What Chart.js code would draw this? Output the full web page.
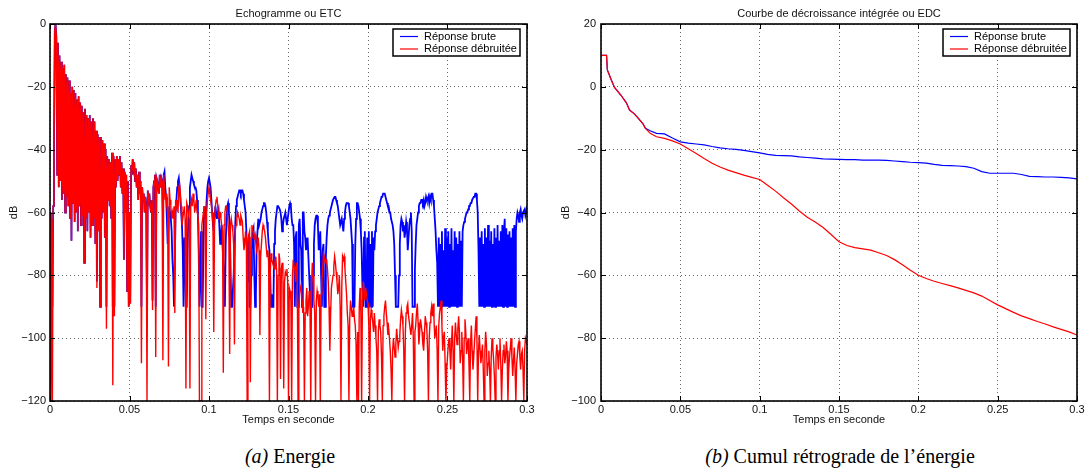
<!DOCTYPE html>
<html>
<head>
<meta charset="utf-8">
<script src="https://cdn.jsdelivr.net/npm/chart.js@4.4.1/dist/chart.umd.min.js"></script>
<style>
  html, body { margin: 0; padding: 0; background: #fff; }
  body { width: 1087px; height: 472px; position: relative; overflow: hidden; }
  .panel { position: absolute; top: 0; height: 430px; }
  #etcBox { left: 0; width: 545px; }
  #edcBox { left: 545px; width: 542px; }
  .caption {
    position: absolute; top: 445px; transform: translateX(-50%);
    font-family: "Liberation Serif", "Times New Roman", serif; font-size: 20px;
    color: #000; white-space: nowrap;
  }
</style>
</head>
<body>
<div class="panel" id="etcBox"><canvas id="etc"></canvas></div>
<div class="panel" id="edcBox"><canvas id="edc"></canvas></div>
<div class="caption" style="left:290px"><i>(a)</i> Energie</div>
<div class="caption" style="left:840px"><i>(b)</i> Cumul rétrograde de l’énergie</div>

<script>
// Echogramme (ETC): one value every 0.5 ms from 0 to 0.3 s, in dB (10 ms per row)
const etcBrute = [
  -60, -90, -62, -90, -58, -40, -2, 0, -4, -48, -6, -52, -10, -50, -12, -56, -14, -54, -13, -60,
  -16, -55, -17, -58, -18, -62, -22, -69, -20, -57, -21, -63, -22, -60, -24, -66, -23, -58, -25, -64,
  -26, -61, -28, -76, -27, -62, -29, -66, -30, -60, -29, -68, -31, -64, -30, -62, -31, -70, -34, -82,
  -35, -66, -36, -90, -36, -62, -37, -60, -38, -68, -40, -90, -42, -56, -43, -58, -44, -62, -41, -90,
  -42, -90, -43, -52, -42, -50, -43, -48, -42, -52, -44, -54, -46, -75, -47, -60, -48, -85, -50, -90,
  -60, -89, -45, -48, -43, -46, -44, -50, -46, -52, -48, -56, -47, -54, -50, -90, -52, -56, -54, -60,
  -55, -58, -90, -53, -56, -54, -58, -60, -56, -88, -52, -50, -48, -90, -49, -50, -52, -54, -48, -52,
  -49, -50, -60, -48, -47, -52, -55, -62, -70, -64, -58, -60, -62, -66, -75, -80, -90, -90, -60, -56,
  -52, -50, -49, -52, -56, -60, -64, -72, -90, -68, -70, -90, -90, -72, -62, -58, -52, -50, -48, -49,
  -50, -51, -52, -52, -53, -56, -60, -72, -90, -80, -66, -90, -90, -70, -58, -60, -62, -56, -52, -50,
  -49, -49, -52, -56, -60, -64, -66, -62, -58, -60, -62, -60, -59, -64, -70, -68, -64, -70, -76, -80,
  -90, -70, -62, -58, -57, -60, -64, -76, -90, -90, -90, -80, -72, -64, -58, -56, -55, -54, -53, -53,
  -54, -53, -53, -54, -56, -58, -60, -66, -75, -82, -68, -90, -90, -80, -72, -66, -65, -80, -90, -86,
  -70, -66, -62, -64, -64, -62, -60, -59, -58, -57, -57, -58, -60, -63, -66, -70, -72, -80, -90, -86,
  -90, -90, -70, -66, -62, -60, -58, -58, -58, -59, -60, -62, -66, -64, -62, -61, -60, -62, -64, -62,
  -60, -58, -57, -58, -62, -64, -64, -70, -90, -68, -66, -90, -90, -64, -62, -70, -72, -90, -60, -60,
  -66, -68, -72, -70, -68, -74, -80, -86, -90, -90, -90, -80, -70, -64, -62, -61, -61, -64, -72, -70,
  -66, -80, -90, -72, -70, -90, -90, -74, -68, -64, -62, -61, -60, -59, -58, -57, -56, -56, -55, -55,
  -56, -57, -58, -60, -62, -64, -64, -62, -64, -66, -62, -60, -58, -57, -57, -57, -58, -60, -62, -66,
  -70, -90, -90, -90, -70, -62, -57, -57, -58, -60, -62, -66, -72, -84, -90, -68, -66, -90, -90, -68,
  -90, -66, -90, -70, -90, -66, -90, -68, -72, -66, -64, -62, -60, -59, -58, -57, -56, -55, -55, -54,
  -54, -54, -55, -56, -57, -58, -58, -60, -60, -62, -62, -64, -66, -70, -80, -90, -90, -90, -90, -80,
  -70, -64, -62, -63, -66, -64, -68, -66, -63, -65, -72, -68, -64, -62, -60, -66, -90, -90, -90, -78,
  -70, -64, -62, -60, -58, -57, -57, -56, -56, -57, -56, -58, -57, -55, -56, -56, -55, -57, -55, -56,
  -54, -54, -56, -58, -62, -66, -72, -76, -90, -68, -90, -70, -90, -66, -90, -72, -90, -65, -90, -68,
  -90, -66, -90, -70, -90, -65, -90, -72, -90, -66, -90, -68, -90, -70, -90, -66, -90, -69, -90, -66,
  -64, -63, -62, -61, -60, -60, -59, -58, -58, -57, -57, -56, -56, -55, -55, -54, -54, -56, -60, -72,
  -90, -68, -90, -66, -90, -70, -90, -65, -90, -68, -90, -64, -90, -69, -90, -66, -90, -70, -90, -65,
  -90, -68, -90, -64, -90, -69, -90, -66, -90, -64, -90, -66, -62, -90, -65, -90, -67, -90, -66, -90,
  -68, -90, -65, -90, -64, -90, -66, -62, -60, -61, -63, -60, -59, -61, -62, -60, -60, -59, -61, -60,
  -58
];
const etcDebruitee = [
  -60, -120, -62, -120, -58, -40, -2, 0, -4, -48, -6, -52, -10, -50, -12, -56, -14, -54, -13, -60,
  -16, -55, -17, -58, -18, -62, -22, -69, -20, -57, -21, -63, -22, -60, -24, -66, -23, -58, -25, -64,
  -26, -61, -28, -76, -27, -62, -29, -66, -30, -60, -29, -68, -31, -64, -30, -62, -31, -70, -34, -84,
  -35, -66, -36, -90, -36, -62, -37, -60, -38, -68, -40, -97, -42, -56, -43, -58, -44, -62, -41, -115,
  -42, -93, -43, -52, -42, -50, -43, -48, -42, -52, -44, -54, -46, -75, -47, -60, -48, -85, -50, -90,
  -60, -89, -45, -48, -43, -46, -44, -50, -46, -52, -48, -56, -47, -54, -50, -108, -52, -56, -54, -60,
  -55, -58, -120, -53, -56, -54, -58, -60, -56, -91, -52, -50, -48, -106, -49, -50, -52, -54, -48, -52,
  -49, -50, -107, -48, -52, -56, -54, -58, -60, -109, -52, -56, -58, -62, -60, -62, -58, -92, -56, -58,
  -56, -60, -52, -51, -54, -58, -64, -62, -60, -58, -62, -116, -57, -58, -60, -62, -116, -58, -56, -58,
  -54, -56, -60, -58, -56, -60, -61, -64, -120, -120, -120, -64, -62, -60, -58, -62, -94, -60, -56, -54,
  -52, -54, -56, -58, -60, -64, -98, -62, -58, -56, -55, -58, -62, -60, -60, -62, -64, -66, -111, -64,
  -60, -58, -58, -60, -64, -68, -105, -64, -62, -64, -66, -70, -102, -66, -64, -62, -60, -61, -62, -64,
  -61, -62, -63, -68, -72, -70, -66, -68, -120, -70, -67, -66, -114, -68, -64, -66, -66, -68, -67, -70,
  -72, -70, -68, -72, -99, -74, -70, -66, -64, -65, -66, -68, -71, -74, -72, -76, -120, -80, -73, -75,
  -76, -77, -78, -76, -74, -78, -120, -80, -73, -75, -113, -78, -76, -80, -116, -82, -79, -80, -78, -82,
  -120, -84, -85, -88, -120, -80, -75, -77, -78, -82, -76, -80, -120, -90, -86, -84, -83, -88, -92, -90,
  -120, -92, -88, -84, -93, -90, -85, -88, -120, -82, -76, -80, -88, -92, -120, -88, -85, -87, -90, -86,
  -120, -86, -82, -78, -73, -74, -76, -75, -75, -78, -82, -90, -104, -92, -84, -82, -80, -77, -74, -76,
  -79, -82, -86, -84, -80, -90, -120, -84, -74, -75, -74, -78, -82, -86, -92, -96, -120, -94, -88, -90,
  -93, -92, -90, -94, -96, -102, -120, -98, -120, -90, -84, -92, -120, -88, -82, -85, -88, -84, -86, -88,
  -89, -96, -120, -94, -91, -93, -95, -98, -92, -96, -100, -104, -120, -98, -94, -96, -98, -106, -120, -96,
  -93, -90, -88, -92, -95, -99, -97, -100, -104, -110, -120, -104, -100, -103, -106, -102, -97, -100, -103, -101,
  -99, -94, -91, -93, -96, -104, -120, -98, -92, -90, -89, -93, -95, -97, -99, -96, -92, -100, -120, -98,
  -96, -92, -89, -95, -102, -98, -94, -96, -98, -102, -104, -99, -93, -95, -97, -104, -120, -100, -95, -92,
  -90, -93, -89, -94, -100, -98, -96, -104, -120, -96, -92, -90, -88, -96, -104, -100, -98, -108, -120, -110,
  -106, -102, -100, -104, -110, -102, -96, -104, -120, -100, -95, -99, -102, -97, -93, -98, -108, -104, -98, -106,
  -120, -100, -94, -98, -105, -102, -100, -108, -120, -102, -96, -104, -110, -106, -101, -97, -93, -100, -120, -104,
  -99, -104, -108, -105, -102, -110, -120, -104, -98, -102, -112, -108, -104, -110, -120, -106, -100, -103, -107, -112,
  -120, -106, -102, -105, -110, -104, -100, -108, -120, -110, -104, -102, -108, -106, -101, -104, -120, -110, -106, -103,
  -100, -106, -112, -107, -103, -110, -120, -108, -105, -102, -101, -106, -110, -105, -104, -110, -120, -104, -100, -101,
  -102
];
const etcTime = etcBrute.map((_, i) => i / 2000);

// Courbe de décroissance (EDC)
const edcTime = [
  0, 0.0035, 0.004, 0.0065, 0.0085, 0.0125, 0.016, 0.018, 0.021, 0.023,
  0.0265, 0.028, 0.031, 0.035, 0.04, 0.045, 0.05,
  0.055, 0.06, 0.065, 0.07, 0.075, 0.08, 0.085, 0.09, 0.095, 0.1,
  0.105, 0.11, 0.115, 0.12, 0.125, 0.13, 0.135, 0.14, 0.145, 0.15,
  0.155, 0.16, 0.165, 0.17, 0.175, 0.18, 0.185, 0.19, 0.195, 0.2,
  0.205, 0.21, 0.215, 0.22, 0.225, 0.23, 0.235, 0.24, 0.245, 0.25,
  0.255, 0.26, 0.265, 0.27, 0.275, 0.28, 0.285, 0.29, 0.295, 0.3
];
const edcBrute = [
  10, 10, 5.4, 2.2, -0.2, -2.6, -5.1, -7.4, -8.6, -9.7,
  -11.8, -13.2, -14, -14.8, -15, -16.3, -17.5,
  -17.9, -18.2, -18.5, -19, -19.4, -19.7, -19.9, -20.2, -20.6, -21,
  -21.5, -21.8, -21.9, -22, -22.3, -22.5, -22.7, -22.9, -23, -23.1,
  -23.2, -23.2, -23.3, -23.3, -23.3, -23.4, -23.6, -23.8, -24, -24.1,
  -24.3, -24.7, -25, -25.1, -25.2, -25.4, -25.9, -27, -27.5, -27.5,
  -27.5, -27.5, -27.9, -28.5, -28.6, -28.7, -28.7, -28.8, -29, -29.3
];
const edcDebruitee = [
  10, 10, 5.4, 2.2, -0.2, -2.6, -5.1, -7.4, -8.6, -9.7,
  -11.8, -13.2, -14.8, -15.9, -16.4, -17.2, -18.2,
  -19.7, -21.2, -22.8, -24.3, -25.5, -26.5, -27.3, -28.1, -28.8, -29.5,
  -31.3, -33.2, -35.3, -37.3, -39.5, -41.5, -43, -44.8, -47, -49.3,
  -50.5, -51.2, -51.6, -52, -52.8, -53.7, -55, -56.6, -58.4, -60,
  -61, -61.9, -62.6, -63.3, -64, -64.8, -65.6, -66.6, -68, -69.4,
  -70.6, -71.8, -72.9, -73.8, -74.7, -75.5, -76.4, -77.2, -78, -79
];

const xTicks = { min: 0, max: 0.3, step: 0.05 };
const seriesLabels = ['Réponse brute', 'Réponse débruitée'];

Chart.defaults.font.family = '"Liberation Sans", Arial, Helvetica, sans-serif';
Chart.defaults.font.size = 11;
Chart.defaults.color = '#111';

const toXY = (xs, ys) => ys.map((v, i) => ({ x: xs[i], y: v }));
const minus = v => (v < 0 ? '\u2212' + Math.abs(v) : String(v));

// box around the axes, inward ticks on the four sides, legend in the upper right
const matlabFrame = {
  id: 'matlabFrame',
  afterDraw(chart) {
    const { ctx, chartArea: a, scales: { x, y } } = chart;
    ctx.save();
    ctx.strokeStyle = '#000';
    ctx.lineWidth = 1;
    ctx.beginPath();
    x.ticks.forEach(t => {
      const px = Math.round(x.getPixelForValue(t.value)) + 0.5;
      ctx.moveTo(px, a.bottom); ctx.lineTo(px, a.bottom - 5);
      ctx.moveTo(px, a.top); ctx.lineTo(px, a.top + 5);
    });
    y.ticks.forEach(t => {
      const py = Math.round(y.getPixelForValue(t.value)) + 0.5;
      ctx.moveTo(a.left, py); ctx.lineTo(a.left + 5, py);
      ctx.moveTo(a.right, py); ctx.lineTo(a.right - 5, py);
    });
    ctx.stroke();

    ctx.lineWidth = 1.6;
    ctx.strokeRect(a.left, a.top, a.right - a.left, a.bottom - a.top);

    // legend
    const bx = a.right - 134, by = a.top + 5, bw = 127, bh = 27;
    ctx.fillStyle = '#fff';
    ctx.fillRect(bx, by, bw, bh);
    ctx.lineWidth = 1.5;
    ctx.strokeRect(bx, by, bw, bh);
    ctx.font = '11px "Liberation Sans", Arial, sans-serif';
    ctx.textBaseline = 'middle';
    chart.data.datasets.forEach((ds, i) => {
      const ly = by + 7.5 + i * 12.5;
      ctx.strokeStyle = ds.borderColor;
      ctx.lineWidth = 1.2;
      ctx.beginPath();
      ctx.moveTo(bx + 7, ly); ctx.lineTo(bx + 25, ly);
      ctx.stroke();
      ctx.fillStyle = '#000';
      ctx.fillText(ds.label, bx + 31, ly);
    });
    ctx.restore();
  }
};

function makeChart(id, title, brute, debruitee, yMin, yMax, yWidth, yTitlePad, yTickPad, padRight, widths) {
  return new Chart(document.getElementById(id), {
    type: 'line',
    data: {
      datasets: [
        { label: seriesLabels[0], data: brute, borderColor: '#0000ff', borderWidth: widths[0], order: 1 },
        { label: seriesLabels[1], data: debruitee, borderColor: '#ff0000', borderWidth: widths[1], order: 0 }
      ]
    },
    options: {
      responsive: true,
      maintainAspectRatio: false,
      animation: false,
      parsing: false,
      normalized: true,
      layout: { padding: { left: 0, right: padRight, top: 0, bottom: 0 } },
      elements: { point: { radius: 0 }, line: { tension: 0 } },
      plugins: {
        legend: { display: false },
        tooltip: { enabled: false },
        title: {
          display: true, text: title, fullSize: false,
          font: { size: 11, weight: 'normal' }, color: '#111',
          padding: { top: 7, bottom: 3.8 }
        }
      },
      scales: {
        x: {
          type: 'linear', min: xTicks.min, max: xTicks.max,
          afterFit: s => { s.height = 29; },
          ticks: {
            stepSize: xTicks.step, autoSkip: false, maxRotation: 0, padding: 2,
            callback: v => String(Math.round(v * 100) / 100)
          },
          grid: { color: 'rgba(0,0,0,0.6)', lineWidth: 1, drawTicks: false },
          border: { display: false, dash: [1, 3] },
          title: { display: true, text: 'Temps en seconde', padding: { top: 0, bottom: 3 } }
        },
        y: {
          min: yMin, max: yMax,
          afterFit: s => { s.width = yWidth; },
          ticks: { stepSize: 20, padding: yTickPad, callback: v => minus(v) },
          grid: { color: 'rgba(0,0,0,0.6)', lineWidth: 1, drawTicks: false },
          border: { display: false, dash: [1, 3] },
          title: { display: true, text: 'dB', padding: { top: yTitlePad, bottom: 0 } }
        }
      }
    },
    plugins: [matlabFrame]
  });
}

makeChart('etc', 'Echogramme ou ETC',
  toXY(etcTime, etcBrute), toXY(etcTime, etcDebruitee),
  -120, 0, 50, 7.4, 4, 18, [1.8, 1.4]);

makeChart('edc', 'Courbe de décroissance intégrée ou EDC',
  toXY(edcTime, edcBrute), toXY(edcTime, edcDebruitee),
  -100, 20, 56, 14.4, 5, 10, [1.2, 1.2]);
</script>
</body>
</html>
